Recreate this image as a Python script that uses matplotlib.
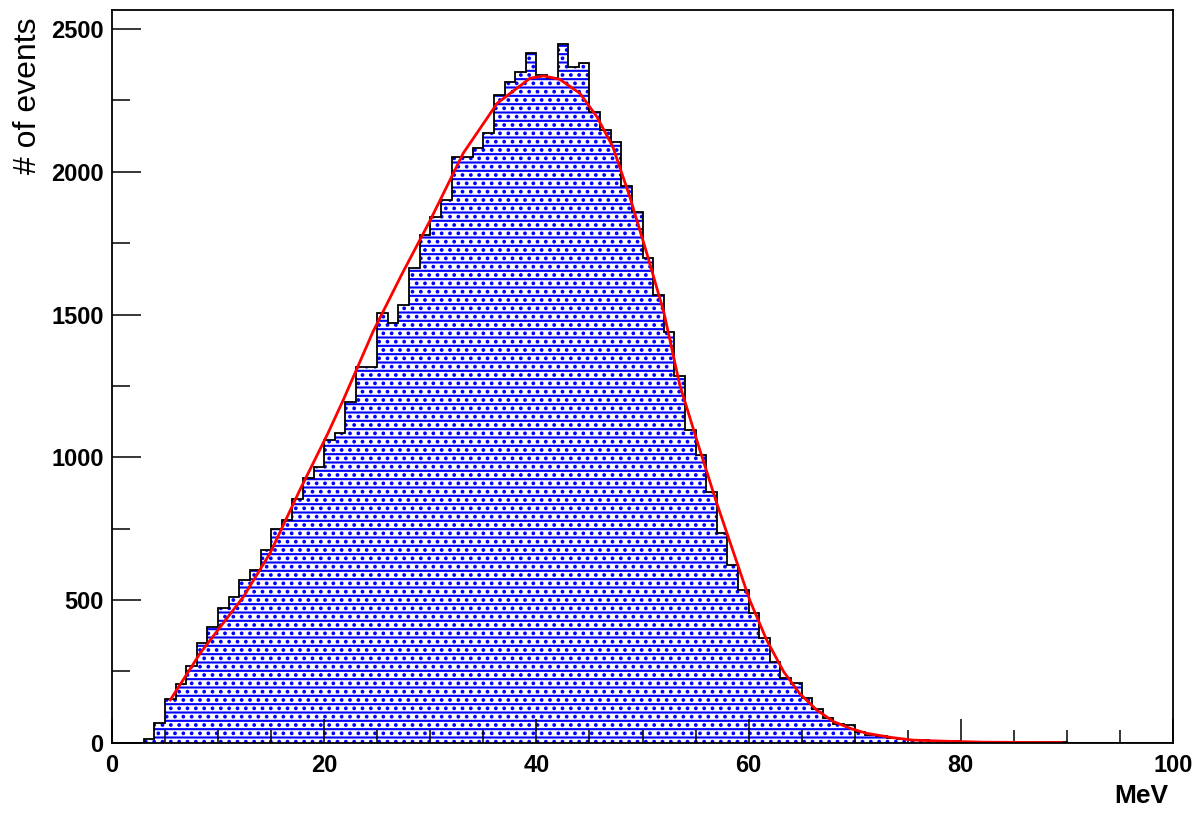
import numpy as np
import matplotlib
matplotlib.use("Agg")
import matplotlib.pyplot as plt
from matplotlib.ticker import MultipleLocator

# histogram: 1 MeV bins from 0 to 100, counts
bin_edges = list(range(0, 101))
counts = [0, 0, 0, 13, 70, 152, 206, 270, 348, 405,
          471, 512, 570, 605, 675, 748, 780, 853, 926, 967,
          1060, 1084, 1195, 1317, 1317, 1504, 1469, 1534, 1662, 1779,
          1843, 1901, 2053, 2053, 2083, 2135, 2269, 2316, 2351, 2415,
          2340, 2330, 2448, 2369, 2383, 2211, 2147, 2106, 1949, 1861,
          1697, 1569, 1440, 1283, 1096, 1008, 879, 734, 623, 535,
          453, 366, 284, 226, 208, 158, 117, 88, 65, 62,
          38, 27, 23, 15, 12, 9, 8, 7, 5, 5,
          4, 4, 4, 3, 3, 2, 2, 3, 1, 1,
          0, 0, 0, 0, 0, 0, 0, 0, 0, 0]

# fitted curve (red)
fit_x = [5.5, 8.3, 12.4, 14.9, 17.7, 20.3, 21.8, 24.6, 27.3, 30.0,
         33.1, 36.3, 39.4, 40.7, 42.2, 44.1, 45.7, 47.2, 48.8, 50.4,
         52.0, 53.5, 55.4, 57.0, 58.6, 60.1, 61.7, 63.3, 64.8, 66.4,
         68.0, 69.6, 71.1, 73.5, 75.5, 78.7, 82.0, 86.0, 89.5]
fit_y = [150, 313, 512, 664, 885, 1080, 1201, 1440, 1640, 1831,
         2065, 2240, 2328, 2336, 2324, 2275, 2193, 2088, 1913, 1715,
         1510, 1255, 1026, 839, 664, 500, 360, 249, 173, 115,
         74, 50, 33, 18, 9, 5, 2, 1, 0.5]

plt.rcParams['font.family'] = ['Liberation Sans', 'DejaVu Sans']
plt.rcParams['hatch.linewidth'] = 1.5

fig = plt.figure(figsize=(12.01, 8.14), dpi=100)
ax = fig.add_axes([112 / 1201, 1 - 742.7 / 814, 1061 / 1201, 732.7 / 814])

ax.stairs(counts, bin_edges, fill=True, facecolor='white', edgecolor='#0000ff',
          hatch='--..', linewidth=0)
ax.stairs(counts, bin_edges, color='black', linewidth=1.3)
ax.plot(fit_x, fit_y, color='red', linewidth=2.0)

ax.set_xlim(0, 100)
ax.set_ylim(0, 2567)

ax.xaxis.set_major_locator(MultipleLocator(20))
ax.xaxis.set_minor_locator(MultipleLocator(5))
ax.yaxis.set_major_locator(MultipleLocator(500))
ax.yaxis.set_minor_locator(MultipleLocator(250))
ax.tick_params(axis='x', which='major', direction='in', length=17, width=1.1,
               pad=8, labelsize=17)
ax.tick_params(axis='x', which='minor', direction='in', length=9.5, width=1.1)
ax.tick_params(axis='y', which='major', direction='in', length=21, width=1.1,
               pad=6, labelsize=17)
ax.tick_params(axis='y', which='minor', direction='in', length=13, width=1.1)
for lab in ax.get_xticklabels() + ax.get_yticklabels():
    lab.set_fontweight('bold')
for sp in ax.spines.values():
    sp.set_linewidth(1.3)

fig.text(1168 / 1201, 1 - 808 / 814, 'MeV', ha='right', va='bottom',
         fontsize=19, fontweight='bold')
fig.text(28 / 1201, 1 - 18 / 814, '# of events', rotation=90, ha='center',
         va='top', fontsize=23)

fig.savefig('out.png', dpi=100)
